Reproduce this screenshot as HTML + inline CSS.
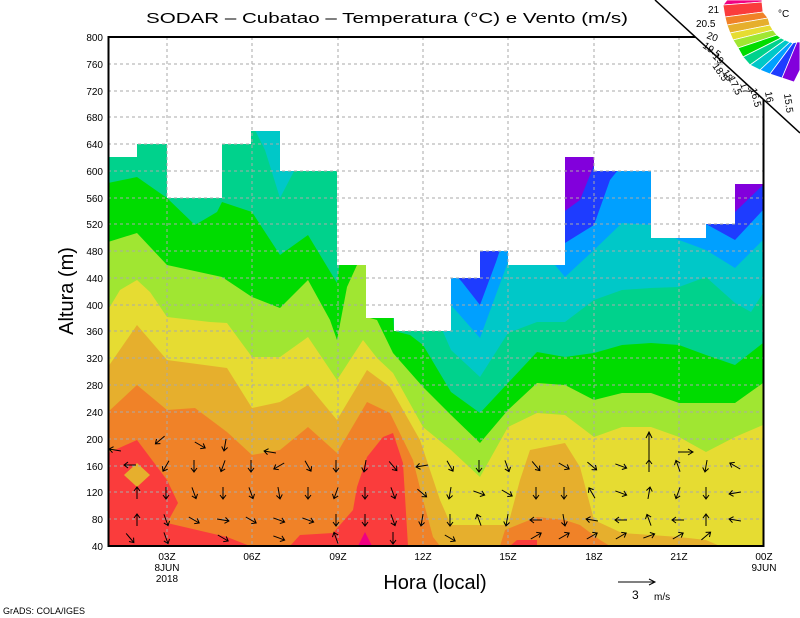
<!DOCTYPE html>
<html><head><meta charset="utf-8"><style>html,body{margin:0;padding:0;background:#fff}svg{display:block}text{font-family:"Liberation Sans",sans-serif}</style></head><body>
<svg width="800" height="618" viewBox="0 0 800 618" xmlns="http://www.w3.org/2000/svg">
<defs>
<clipPath id="dc"><path d="M108,546 L108,157 L137,157 L137,144 L167,144 L167,198 L222,198 L222,144 L251,144 L251,131 L280,131 L280,171 L337,171 L337,265 L366,265 L366,318 L394,318 L394,331 L451,331 L451,278 L480,278 L480,251 L508,251 L508,265 L565,265 L565,157 L594,157 L594,171 L651,171 L651,238 L706,238 L706,224 L735,224 L735,184 L763,184 L763,546 Z"/></clipPath>
<g id="a" stroke="#000" stroke-width="1" fill="none"><path d="M0,-6 L0,6 M-3,2 L0,6 L3,2"/></g>
</defs>
<rect width="800" height="618" fill="#fff"/>
<g clip-path="url(#dc)">
<rect x="100" y="0" width="670" height="550" fill="#8200dc"/>
<polygon fill="#1e3cff" points="108,0 560,0 565,211 580,200 594,165 730,165 735,212 763,185 763,546 108,546"/>
<polygon fill="#00a0ff" points="108,0 450,0 451,270 462,282 480,305 496,262 500,250 510,250 565,243 594,225 610,180 622,165 700,165 706,224 735,240 763,210 763,546 108,546"/>
<polygon fill="#00c8c8" points="108,100 440,100 451,305 480,338 508,262 537,262 555,265 565,277 594,250 622,223 651,225 679,240 706,250 735,268 763,240 763,546 108,546"/>
<polygon fill="#00d28c" points="108,120 250,120 265,150 280,198 292,175 300,160 430,160 440,325 451,350 480,377 508,333 537,322 565,322 594,300 622,290 651,288 679,287 706,277 735,303 751,312 763,293 763,546 108,546"/>
<polygon fill="#00dc00" points="108,183 137,177 167,198 195,225 217,212 222,202 252,212 280,255 308,235 337,283 340,260 390,260 394,331 410,335 423,345 451,392 480,413 508,383 537,352 565,357 594,353 622,345 651,343 679,345 706,355 735,365 763,343 763,546 108,546"/>
<polygon fill="#a0e632" points="108,242 137,233 167,265 222,277 252,297 280,308 308,280 330,320 337,340 347,287 357,265 366,265 370,318 377,320 393,353 423,387 451,415 480,443 508,410 537,383 565,385 594,400 622,393 651,393 679,403 706,403 735,403 763,383 763,546 108,546"/>
<polygon fill="#e6dc32" points="108,310 120,290 137,280 150,292 167,317 210,322 227,323 252,357 280,357 308,337 337,380 363,340 377,358 393,373 423,427 451,450 480,477 508,427 537,413 565,415 594,437 622,427 651,427 679,437 706,452 735,437 763,425 763,546 108,546"/>
<polygon fill="#e6af2d" points="108,367 137,325 167,360 227,368 252,408 280,402 308,385 337,420 367,370 390,387 420,440 440,500 451,525 508,525 520,480 530,450 565,443 580,467 594,520 622,533 679,537 706,540 720,546 108,546"/>
<polygon fill="#f08228" points="108,412 137,385 167,410 195,408 227,432 252,455 280,450 308,427 337,453 367,402 390,413 413,460 423,500 433,537 440,546 500,546 505,530 537,517 565,520 580,525 600,540 610,546 108,546"/>
<polygon fill="#fa3c3c" points="108,453 137,440 167,480 178,503 167,523 197,530 227,537 250,546 290,546 300,535 333,533 353,510 357,487 367,457 383,437 393,433 403,463 408,546 108,546"/>
<polygon fill="#e6af2d" points="124,475 137,463 150,475 137,487"/>
<polygon fill="#fa3c3c" points="510,546 517,540 537,540 537,546"/>
<polygon fill="#f00082" points="358,546 365,532 372,546"/>
</g>
<g stroke="#aaa" stroke-width="1" stroke-dasharray="3,3" fill="none">
<path d="M167,37V546M252,37V546M338,37V546M423,37V546M508,37V546M594,37V546M679,37V546"/>
<path d="M108,64H763M108,91H763M108,117H763M108,144H763M108,171H763M108,198H763M108,224H763M108,251H763M108,278H763M108,305H763M108,331H763M108,358H763M108,385H763M108,412H763M108,439H763M108,466H763M108,492H763M108,519H763"/>
</g>
<g>
<use href="#a" transform="translate(115,450) rotate(100)"/>
<use href="#a" transform="translate(160,440) rotate(50)"/><use href="#a" transform="translate(200,445) rotate(-60)"/><use href="#a" transform="translate(225,445) rotate(10)"/><use href="#a" transform="translate(270,452) rotate(100)"/>
<use href="#a" transform="translate(130,465) rotate(90)"/><use href="#a" transform="translate(166,466) rotate(30)"/><use href="#a" transform="translate(194,466) rotate(0)"/><use href="#a" transform="translate(223,466) rotate(20)"/><use href="#a" transform="translate(251,466) rotate(0)"/><use href="#a" transform="translate(279,466) rotate(60)"/><use href="#a" transform="translate(308,466) rotate(-30)"/><use href="#a" transform="translate(336,466) rotate(0)"/><use href="#a" transform="translate(365,466) rotate(10)"/><use href="#a" transform="translate(393,466) rotate(-40)"/><use href="#a" transform="translate(422,466) rotate(80)"/><use href="#a" transform="translate(450,466) rotate(-30)"/><use href="#a" transform="translate(479,466) rotate(0)"/><use href="#a" transform="translate(507,466) rotate(-20)"/><use href="#a" transform="translate(536,466) rotate(-40)"/><use href="#a" transform="translate(564,466) rotate(-60)"/><use href="#a" transform="translate(592,466) rotate(-50)"/><use href="#a" transform="translate(621,466) rotate(-70)"/><use href="#a" transform="translate(649,466) rotate(180)"/><use href="#a" transform="translate(678,466) rotate(160)"/><use href="#a" transform="translate(706,466) rotate(10)"/><use href="#a" transform="translate(735,466) rotate(120)"/>
<use href="#a" transform="translate(137,493) rotate(180)"/><use href="#a" transform="translate(166,493) rotate(0)"/><use href="#a" transform="translate(194,493) rotate(-20)"/><use href="#a" transform="translate(223,493) rotate(0)"/><use href="#a" transform="translate(251,493) rotate(-20)"/><use href="#a" transform="translate(279,493) rotate(-10)"/><use href="#a" transform="translate(308,493) rotate(0)"/><use href="#a" transform="translate(336,493) rotate(20)"/><use href="#a" transform="translate(365,493) rotate(0)"/><use href="#a" transform="translate(393,493) rotate(-20)"/><use href="#a" transform="translate(422,493) rotate(-50)"/><use href="#a" transform="translate(450,493) rotate(10)"/><use href="#a" transform="translate(479,493) rotate(-70)"/><use href="#a" transform="translate(507,493) rotate(-60)"/><use href="#a" transform="translate(536,493) rotate(0)"/><use href="#a" transform="translate(564,493) rotate(0)"/><use href="#a" transform="translate(592,493) rotate(150)"/><use href="#a" transform="translate(621,493) rotate(-70)"/><use href="#a" transform="translate(649,493) rotate(190)"/><use href="#a" transform="translate(678,493) rotate(20)"/><use href="#a" transform="translate(706,493) rotate(0)"/><use href="#a" transform="translate(735,493) rotate(80)"/>
<use href="#a" transform="translate(137,520) rotate(180)"/><use href="#a" transform="translate(166,520) rotate(-20)"/><use href="#a" transform="translate(194,520) rotate(-60)"/><use href="#a" transform="translate(223,520) rotate(-80)"/><use href="#a" transform="translate(251,520) rotate(-60)"/><use href="#a" transform="translate(279,520) rotate(-70)"/><use href="#a" transform="translate(308,520) rotate(-70)"/><use href="#a" transform="translate(336,520) rotate(0)"/><use href="#a" transform="translate(365,520) rotate(0)"/><use href="#a" transform="translate(393,520) rotate(-20)"/><use href="#a" transform="translate(422,520) rotate(10)"/><use href="#a" transform="translate(450,520) rotate(0)"/><use href="#a" transform="translate(479,520) rotate(160)"/><use href="#a" transform="translate(507,520) rotate(10)"/><use href="#a" transform="translate(536,520) rotate(90)"/><use href="#a" transform="translate(564,520) rotate(-10)"/><use href="#a" transform="translate(592,520) rotate(100)"/><use href="#a" transform="translate(621,520) rotate(90)"/><use href="#a" transform="translate(649,520) rotate(160)"/><use href="#a" transform="translate(678,520) rotate(90)"/><use href="#a" transform="translate(706,520) rotate(180)"/><use href="#a" transform="translate(735,520) rotate(100)"/>
<use href="#a" transform="translate(130,538) rotate(-40)"/><use href="#a" transform="translate(166,538) rotate(-20)"/><use href="#a" transform="translate(223,538) rotate(-60)"/><use href="#a" transform="translate(279,538) rotate(-70)"/><use href="#a" transform="translate(336,538) rotate(160)"/><use href="#a" transform="translate(393,538) rotate(0)"/><use href="#a" transform="translate(450,538) rotate(-60)"/><use href="#a" transform="translate(536,536) rotate(-120)"/><use href="#a" transform="translate(564,536) rotate(-120)"/><use href="#a" transform="translate(592,536) rotate(-120)"/><use href="#a" transform="translate(621,536) rotate(-120)"/><use href="#a" transform="translate(649,536) rotate(-110)"/><use href="#a" transform="translate(678,536) rotate(-120)"/><use href="#a" transform="translate(706,536) rotate(-130)"/>
<path d="M649,470 L649,432 M646,438 L649,432 L652,438" stroke="#000" fill="none"/>
<path d="M678,452 L693,452 M688,449 L693,452 L688,455" stroke="#000" fill="none"/>
</g>
<rect x="108.5" y="37" width="655" height="509" fill="none" stroke="#000" stroke-width="2"/>
<g font-size="10" text-anchor="end" fill="#000">
<text x="103" y="41">800</text><text x="103" y="68">760</text><text x="103" y="95">720</text><text x="103" y="121">680</text><text x="103" y="148">640</text><text x="103" y="175">600</text><text x="103" y="202">560</text><text x="103" y="228">520</text><text x="103" y="255">480</text><text x="103" y="282">440</text><text x="103" y="309">400</text><text x="103" y="335">360</text><text x="103" y="362">320</text><text x="103" y="389">280</text><text x="103" y="416">240</text><text x="103" y="443">200</text><text x="103" y="470">160</text><text x="103" y="496">120</text><text x="103" y="523">80</text><text x="103" y="550">40</text>
</g>
<g font-size="10" text-anchor="middle" fill="#000">
<text x="167" y="560">03Z</text><text x="167" y="571">8JUN</text><text x="167" y="582">2018</text>
<text x="252" y="560">06Z</text><text x="338" y="560">09Z</text><text x="423" y="560">12Z</text><text x="508" y="560">15Z</text><text x="594" y="560">18Z</text><text x="679" y="560">21Z</text><text x="764" y="560">00Z</text><text x="764" y="571">9JUN</text>
</g>
<text x="146" y="23" font-size="15" textLength="482" lengthAdjust="spacingAndGlyphs">SODAR – Cubatao – Temperatura (°C) e Vento (m/s)</text>
<text x="435" y="589" font-size="20" text-anchor="middle">Hora (local)</text>
<text transform="translate(73,291) rotate(-90)" font-size="20" text-anchor="middle">Altura (m)</text>
<text x="3" y="614" font-size="9">GrADS: COLA/IGES</text>
<path d="M618,582 L655,582 M649,579 L655,582 L649,585" stroke="#000" fill="none"/>
<text x="632" y="599" font-size="12">3</text><text x="654" y="600" font-size="10">m/s</text>
<polygon points="655,0 800,0 800,133" fill="#fff"/>
<line x1="655" y1="0" x2="800" y2="133" stroke="#000" stroke-width="1.5"/>
<g stroke="#fff" stroke-width="0.8">
<polygon fill="#f00082" points="727,0 762,0 762,2 723,5"/>
<polygon fill="#fa3c3c" points="723,5 762,2 763,12 725,17"/>
<polygon fill="#f08228" points="725,17 763,12 768,18 727,25"/>
<polygon fill="#e6af2d" points="727,25 768,18 770,25 730,33"/>
<polygon fill="#e6dc32" points="730,33 770,25 773,30 733,40"/>
<polygon fill="#a0e632" points="733,40 773,30 777,35 738,48"/>
<polygon fill="#00dc00" points="738,48 777,35 781,38 743,57"/>
<polygon fill="#00d28c" points="743,57 781,38 785,40 750,65"/>
<polygon fill="#00c8c8" points="750,65 785,40 790,42 760,70"/>
<polygon fill="#00a0ff" points="760,70 790,42 793,43 770,74"/>
<polygon fill="#1e3cff" points="770,74 793,43 797,42 782,78"/>
<polygon fill="#8200dc" points="782,78 797,42 800,42 800,70 794,82"/>
</g>
<g font-size="10" fill="#000">
<text x="708" y="13">21</text>
<text x="696" y="27">20.5</text>
<text x="706" y="38" transform="rotate(20,706,38)">20</text>
<text x="702" y="47" transform="rotate(35,702,47)">19.5</text>
<text x="712" y="57" transform="rotate(45,712,57)">19</text>
<text x="712" y="66" transform="rotate(55,712,66)">18.5</text>
<text x="722" y="72" transform="rotate(60,722,72)">18</text>
<text x="728" y="78" transform="rotate(65,728,78)">17.5</text>
<text x="740" y="84" transform="rotate(70,740,84)">17</text>
<text x="750" y="89" transform="rotate(75,750,89)">16.5</text>
<text x="765" y="92" transform="rotate(80,765,92)">16</text>
<text x="784" y="94" transform="rotate(82,784,94)">15.5</text>
<text x="778" y="17">°C</text>
</g>
</svg>
</body></html>
